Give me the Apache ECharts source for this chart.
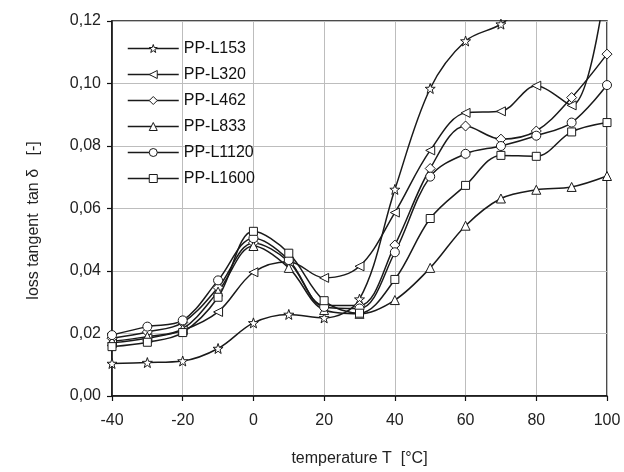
<!DOCTYPE html>
<html>
<head>
<meta charset="utf-8">
<script src="https://cdn.jsdelivr.net/npm/echarts@6/dist/echarts.min.js"></script>
<style>html,body{margin:0;padding:0;background:#fff;overflow:hidden}#c{width:624px;height:472px}</style>
</head>
<body>
<div id="c"></div>
<script>
var temperatures = [-40,-30,-20,-10,0,10,20,30,40,50,60,70,80,90,100];
var seriesNames = ['PP-L153','PP-L320','PP-L462','PP-L833','PP-L1120','PP-L1600'];
var L153  = [0.0104,0.0107,0.0112,0.0152,0.0234,0.0261,0.0250,0.0310,0.0661,0.0984,0.1136,0.1190,0.128,0.136,0.145];
var L320  = [0.0170,0.0185,0.0210,0.0269,0.0396,0.0430,0.0378,0.0415,0.0587,0.0786,0.0906,0.0911,0.0993,0.0930,0.135];
var L462  = [0.0185,0.0205,0.0235,0.0347,0.0490,0.0430,0.0290,0.0290,0.0483,0.0728,0.0864,0.0822,0.0848,0.0955,0.1094];
var L833  = [0.0175,0.0190,0.0215,0.0334,0.0480,0.0410,0.0275,0.0263,0.0307,0.0410,0.0545,0.0632,0.0660,0.0669,0.0704];
var L1120 = [0.0195,0.0222,0.0242,0.0370,0.0505,0.0435,0.0285,0.0280,0.0460,0.0702,0.0775,0.0800,0.0833,0.0875,0.0995];
var L1600 = [0.0158,0.0172,0.0203,0.0316,0.0527,0.0457,0.0305,0.0265,0.0373,0.0568,0.0674,0.0770,0.0767,0.0845,0.0875];
var yTicks = ['0,00','0,02','0,04','0,06','0,08','0,10','0,12'];

var allData = [L153, L320, L462, L833, L1120, L1600];
var star = 'path://M0,-10 L2.35,-3.24 L9.51,-3.09 L3.8,1.24 L5.88,8.09 L0,4 L-5.88,8.09 L-3.8,1.24 L-9.51,-3.09 L-2.35,-3.24 Z';
var symbols = [star, 'triangle', 'diamond', 'triangle', 'circle', 'rect'];
var rotations = [0, 90, 0, 0, 0, 0];
var sizes = [10, 9, 10, 9, 9, 8];
var font = 'Liberation Sans, Arial, sans-serif';

var series = allData.map(function(d, i){
  return {
    name: seriesNames[i],
    type: 'line',
    data: temperatures.map(function(t, j){ return [t, d[j]]; }),
    smooth: 0.35,
    clip: true,
    symbol: symbols[i],
    symbolRotate: rotations[i],
    symbolSize: sizes[i],
    showAllSymbol: true,
    lineStyle: {color: '#1a1a1a', width: 1.5},
    itemStyle: {color: '#ffffff', borderColor: '#1a1a1a', borderWidth: 1},
    emphasis: {disabled: true},
    z: 3
  };
});

var chart = echarts.init(document.getElementById('c'), null, {renderer: 'canvas', width: 624, height: 472});
chart.setOption({
  animation: false,
  backgroundColor: '#ffffff',
  grid: {left: 112, width: 495, top: 21, height: 383, show: true, borderColor: '#111', borderWidth: 1.5, backgroundColor: 'transparent'},
  legend: {
    orient: 'vertical', left: 122, top: 35,
    itemWidth: 51, itemHeight: 10, itemGap: 9,
    itemStyle: {color: '#ffffff', borderColor: '#1a1a1a', borderWidth: 1},
    lineStyle: {color: '#1a1a1a', width: 1.5},
    textStyle: {fontFamily: font, fontSize: 16, lineHeight: 17, color: '#111'},
    data: seriesNames,
    inactiveColor: '#111'
  },
  xAxis: {
    type: 'value', min: -40, max: 100, interval: 20,
    name: 'temperature T  [°C]', nameLocation: 'middle', nameGap: 55,
    nameTextStyle: {fontFamily: font, fontSize: 16, color: '#222'},
    axisLine: {show: true, onZero: false, lineStyle: {color: '#111', width: 1.5}},
    axisTick: {show: true, length: 5, lineStyle: {color: '#111', width: 1.2}},
    axisLabel: {fontFamily: font, fontSize: 16, color: '#222', margin: 17},
    splitLine: {show: true, lineStyle: {color: '#bdbdbd', width: 1}}
  },
  yAxis: {
    type: 'value', min: 0, max: 0.12, interval: 0.02,
    name: 'loss tangent  tan δ   [-]', nameLocation: 'middle', nameGap: 70, nameRotate: 90,
    nameTextStyle: {fontFamily: font, fontSize: 16, color: '#222', padding: [0, 24, 0, 0]},
    axisLine: {show: true, onZero: false, lineStyle: {color: '#111', width: 1.5}},
    axisTick: {show: true, length: 5, lineStyle: {color: '#111', width: 1.2}},
    axisLabel: {fontFamily: font, fontSize: 16, color: '#222', margin: 11,
      formatter: function(v){ return yTicks[Math.round(v/0.02)]; }},
    splitLine: {show: true, lineStyle: {color: '#bdbdbd', width: 1}}
  },
  series: series
});
</script>
</body>
</html>
